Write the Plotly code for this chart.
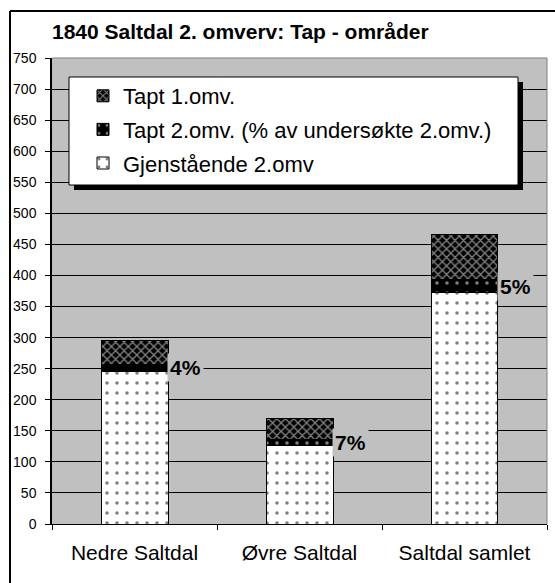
import plotly.graph_objects as go

categories = ["Nedre Saltdal", "Øvre Saltdal", "Saltdal samlet"]
gjenstaende = [246, 126, 372]
tapt2 = [11, 10, 21]
tapt1 = [39, 34, 73]
y_ticks = list(range(0, 751, 50))

W, H = 555, 583
ML, MR, MT, MB = 52, 8, 58, 59
PW, PH = W - ML - MR, H - MT - MB

def px_x(px):
    return (px - ML) / PW

def px_y(py):
    return (H - MB - py) / PH

FONT = "Liberation Sans, Arial, sans-serif"

fig = go.Figure()
fig.add_trace(go.Bar(
    x=categories, y=gjenstaende, name="Gjenstående 2.omv", legendgroup="c", legendrank=3,
    marker=dict(color="white", line=dict(color="black", width=1),
                pattern=dict(shape=".", fgcolor="black", bgcolor="white", size=10, solidity=0.1)),
))
fig.add_trace(go.Bar(
    x=categories, y=tapt2, name="Tapt 2.omv. (% av undersøkte 2.omv.)", legendgroup="b", legendrank=2,
    marker=dict(color="black", line=dict(color="black", width=1),
                pattern=dict(shape=".", fgcolor="white", bgcolor="black", size=10, solidity=0.1)),
))
fig.add_trace(go.Bar(
    x=categories, y=tapt1, name="Tapt 1.omv.", legendgroup="a", legendrank=1,
    marker=dict(color="black", line=dict(color="black", width=1),
                pattern=dict(shape="x", fgcolor="white", bgcolor="black", size=6, solidity=0.4)),
))

# percentage labels
for c, g, t in zip(categories, gjenstaende, tapt2):
    pct = round(100 * t / (g + t))
    fig.add_annotation(
        x=c, y=g + t / 2, xref="x", yref="y", text=f"<b>{pct}%</b>",
        showarrow=False, xanchor="left", yanchor="middle", xshift=32,
        bgcolor="#C0C0C0", borderpad=2,
        font=dict(family=FONT, size=21, color="black"),
    )

shapes = [
    # outer frame (left and top visible)
    dict(type="line", xref="paper", yref="paper", x0=px_x(10), x1=px_x(10), y0=px_y(11), y1=px_y(590),
         line=dict(color="black", width=2)),
    dict(type="line", xref="paper", yref="paper", x0=px_x(10), x1=px_x(560), y0=px_y(11), y1=px_y(11),
         line=dict(color="black", width=2)),
    # plot area top/right gray border
    dict(type="line", xref="paper", yref="paper", x0=0, x1=1, y0=1, y1=1,
         line=dict(color="#808080", width=1)),
    dict(type="line", xref="paper", yref="paper", x0=1, x1=1, y0=0, y1=1,
         line=dict(color="#808080", width=1)),
    # legend shadow and box
    dict(type="rect", xref="paper", yref="paper", x0=px_x(74), x1=px_x(523), y0=px_y(190), y1=px_y(82),
         fillcolor="black", line=dict(width=0), layer="above"),
    dict(type="rect", xref="paper", yref="paper", x0=px_x(69), x1=px_x(518), y0=px_y(185), y1=px_y(77),
         fillcolor="white", line=dict(color="black", width=1), layer="above"),
]

fig.update_layout(
    width=W, height=H,
    margin=dict(l=ML, r=MR, t=MT, b=MB, autoexpand=False),
    paper_bgcolor="white", plot_bgcolor="#C0C0C0",
    barmode="stack", bargap=0.594,
    font=dict(family=FONT, color="black"),
    title=dict(text="<b>1840 Saltdal 2. omverv: Tap - områder</b>", x=52 / W, xanchor="left",
               y=1 - 32 / H, yanchor="middle", font=dict(family=FONT, size=21, color="black")),
    showlegend=True,
    legend=dict(xref="container", yref="container", x=83 / W, y=1 - 75 / H,
                xanchor="left", yanchor="top", bgcolor="rgba(0,0,0,0)", borderwidth=0,
                traceorder="grouped", tracegroupgap=2,
                font=dict(family=FONT, size=22, color="black")),
    shapes=shapes,
)

fig.update_xaxes(
    type="category", showgrid=False, showline=True, linecolor="black", linewidth=1,
    ticks="outside", tickson="boundaries", ticklen=5, tickcolor="black",
    tickfont=dict(family=FONT, size=21, color="black"), ticklabelstandoff=10,
)
fig.update_yaxes(
    range=[0, 750], tickvals=y_ticks, ticktext=[str(v) for v in y_ticks],
    showgrid=True, gridcolor="black", gridwidth=1, zeroline=False,
    showline=True, linecolor="black", linewidth=1.5,
    ticks="outside", ticklen=5, tickcolor="black",
    tickfont=dict(family=FONT, size=14, color="black"), ticklabelstandoff=6,
)

fig.write_html("out.html", config={"displayModeBar": False},
               post_script="document.body.style.margin='0';")
